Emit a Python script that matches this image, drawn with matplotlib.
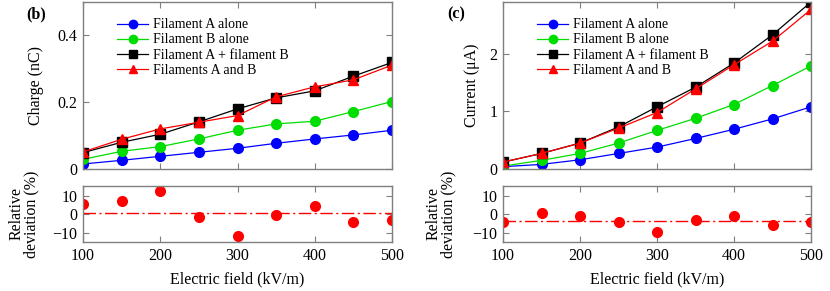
import numpy as np
import matplotlib
matplotlib.use("Agg")
import matplotlib.pyplot as plt

plt.rcParams['font.family'] = ['Liberation Serif', 'DejaVu Serif']
plt.rcParams['mathtext.fontset'] = 'stix'

field = [100, 150, 200, 250, 300, 350, 400, 450, 500]

charge_a = [0.015, 0.026, 0.038, 0.050, 0.062, 0.077, 0.090, 0.102, 0.116]
charge_b = [0.029, 0.053, 0.067, 0.090, 0.116, 0.135, 0.143, 0.172, 0.202]
charge_sum = [0.049, 0.080, 0.104, 0.141, 0.180, 0.213, 0.234, 0.278, 0.319]
charge_ab = [0.051, 0.089, 0.120, 0.140, 0.160, 0.216, 0.246, 0.267, 0.311]
charge_dev = [5.7, 7.2, 12.8, -1.3, -11.9, -0.55, 4.8, -4.2, -3.1]

current_a = [0.04, 0.08, 0.16, 0.27, 0.38, 0.53, 0.69, 0.87, 1.08]
current_b = [0.05, 0.15, 0.27, 0.45, 0.67, 0.88, 1.12, 1.45, 1.79]
current_sum = [0.12, 0.27, 0.45, 0.73, 1.08, 1.42, 1.84, 2.33, 2.90]
current_ab = [0.12, 0.27, 0.45, 0.71, 0.98, 1.39, 1.81, 2.22, 2.77]
current_dev = [-4.2, 0.55, -1.1, -4.2, -9.7, -2.9, -0.9, -5.7, -4.2]

labels_b = ["Filament A alone", "Filament B alone", "Filament A + filament B", "Filaments A and B"]
labels_c = ["Filament A alone", "Filament B alone", "Filament A + filament B", "Filament A and B"]

W, H = 830, 291
fig = plt.figure(figsize=(W / 100, H / 100), dpi=100)

FRAME = '#7f7f7f'
GREEN = '#00dd00'
FS = 11.5


def style(ax):
    for s in ax.spines.values():
        s.set_color(FRAME)
        s.set_linewidth(1.0)
    ax.tick_params(direction='in', top=True, right=True, color=FRAME,
                   length=4, width=0.8, labelsize=FS, pad=4)


def ax_px(x0, x1, y0, y1):
    return fig.add_axes([x0 / W, 1 - y1 / H, (x1 - x0) / W, (y1 - y0) / H])


def panel(x0, x1, top_data, labels, dev, ylabel, ylim, yticks, yticklabels, tag, tagx):
    ax = ax_px(x0, x1, 2, 169)
    a, b, s, ab = top_data
    ax.plot(field, a, '-o', color='blue', ms=7, lw=0.9, label=labels[0])
    ax.plot(field, b, '-o', color=GREEN, ms=7, lw=0.9, label=labels[1])
    ax.plot(field, s, '-s', color='black', ms=6.5, lw=0.9, label=labels[2])
    ax.plot(field, ab, '-^', color='red', ms=6.5, lw=0.9, label=labels[3])
    ax.set_xlim(100, 500)
    ax.set_ylim(*ylim)
    ax.set_yticks(yticks)
    ax.set_yticklabels(yticklabels)
    ax.set_xticks([100, 200, 300, 400, 500])
    ax.set_xticklabels([])
    style(ax)
    ax.set_ylabel(ylabel, fontsize=FS)
    leg = ax.legend(loc='upper left', bbox_to_anchor=(0.08, 0.96),
                    frameon=False, fontsize=10, handlelength=2.2, handletextpad=0.35,
                    labelspacing=0.15, borderaxespad=0.3)
    for h in leg.legend_handles:
        h.set_markersize(6)
    fig.text(tagx / W, 1 - 14 / H, tag, fontsize=FS, fontweight='bold',
             ha='center', va='center')

    axd = ax_px(x0, x1, 186, 242)
    axd.plot(field, dev, 'o', color='red', ms=7, ls='none')
    axd.axhline(np.mean(dev), color='red', lw=1.0, ls=(0, (9, 2.5, 1.5, 2.5)))
    axd.set_xlim(100, 500)
    axd.set_ylim(-15, 15.5)
    axd.set_yticks([-10, 0, 10])
    axd.set_yticklabels(['\u221210', '0', '10'])
    axd.set_xticks([100, 200, 300, 400, 500])
    style(axd)
    axd.set_ylabel('Relative\ndeviation (%)', fontsize=FS, linespacing=0.95)
    axd.set_xlabel('Electric field (kV/m)', fontsize=FS, labelpad=6)
    return ax, axd


axb, axbd = panel(83, 392, (charge_a, charge_b, charge_sum, charge_ab), labels_b,
                  charge_dev, 'Charge (nC)', (0, 0.5), [0, 0.2, 0.4], ['0', '0.2', '0.4'],
                  '(b)', 36)
axc, axcd = panel(503, 811, (current_a, current_b, current_sum, current_ab), labels_c,
                  current_dev, 'Current (\u03bcA)', (0, 2.9), [0, 1, 2], ['0', '1', '2'],
                  '(c)', 456)

# align y-labels like reference
axb.yaxis.set_label_coords(-0.125, 0.5)
axbd.yaxis.set_label_coords(-0.14, 0.5)
axc.yaxis.set_label_coords(-0.075, 0.5)
axcd.yaxis.set_label_coords(-0.15, 0.5)

fig.savefig('out.png', dpi=100)
